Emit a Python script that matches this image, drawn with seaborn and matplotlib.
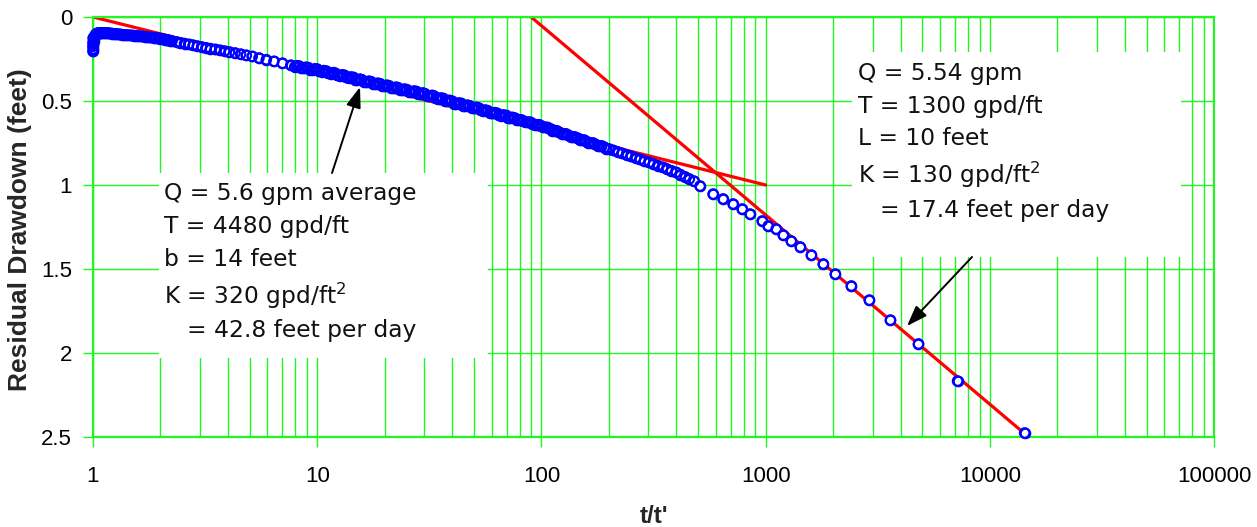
import matplotlib
matplotlib.use('Agg')
import numpy as np
import pandas as pd
import matplotlib.pyplot as plt
import seaborn as sns
from matplotlib.patches import Rectangle
from matplotlib.ticker import LogLocator, NullFormatter

# ---------------- data ----------------
# early recovery (t/t' close to 1)
x_early = [1.000, 1.000, 1.001, 1.002, 1.003, 1.005, 1.008, 1.012, 1.017, 1.023,
           1.030, 1.040, 1.050, 1.065, 1.080, 1.100, 1.120, 1.150, 1.180, 1.220,
           1.260, 1.300, 1.350, 1.400, 1.460, 1.520, 1.590, 1.660, 1.740, 1.820,
           1.910, 2.000, 2.100, 2.170]
y_early = [0.205, 0.175, 0.150, 0.125, 0.190, 0.160, 0.140, 0.125, 0.115, 0.108,
           0.102, 0.098, 0.096, 0.095, 0.094, 0.094, 0.095, 0.096, 0.097, 0.099,
           0.101, 0.103, 0.105, 0.107, 0.109, 0.111, 0.113, 0.116, 0.119, 0.122,
           0.125, 0.128, 0.134, 0.138]
x_early2 = [1.090, 1.135, 1.165, 1.200, 1.240, 1.280, 1.325, 1.375, 1.430, 1.490,
            1.555, 1.625, 1.700, 1.780, 1.865, 1.955, 2.050, 2.135, 2.210]
y_early2 = [0.094, 0.095, 0.096, 0.098, 0.100, 0.102, 0.104, 0.106, 0.108, 0.110,
            0.112, 0.115, 0.118, 0.121, 0.124, 0.127, 0.131, 0.136, 0.141]
# sparse section
x_mid = [2.25, 2.36, 2.45, 2.56, 2.67, 2.80, 2.92, 3.05, 3.19, 3.34, 3.51, 3.68,
         3.86, 4.06, 4.30, 4.55, 4.83, 5.13, 5.50, 5.93, 6.41, 7.00, 7.62]
y_mid = [0.143, 0.149, 0.153, 0.158, 0.163, 0.168, 0.173, 0.178, 0.183, 0.188,
         0.193, 0.198, 0.203, 0.208, 0.214, 0.221, 0.228, 0.235, 0.244, 0.254,
         0.264, 0.275, 0.287]
# dense band
x_band = [7.94, 8.32, 8.71, 9.12, 9.55, 10.0, 10.5, 11.0, 11.5, 12.0,
          12.6, 13.2, 13.8, 14.5, 15.1, 15.8, 16.6, 17.4, 18.2, 19.1,
          20.0, 20.9, 21.9, 22.9, 24.0, 25.1, 26.3, 27.5, 28.8, 30.2,
          31.6, 33.1, 34.7, 36.3, 38.0, 39.8, 41.7, 43.7, 45.7, 47.9,
          50.1, 52.5, 55.0, 57.5, 60.3, 63.1, 66.1, 69.2, 72.4, 75.9,
          79.4, 83.2, 87.1, 91.2, 95.5, 100, 105, 110, 115, 120,
          126, 132, 138, 145, 151, 158, 166, 174, 182, 191,
          200, 209, 219, 229, 240, 251, 263, 275, 288, 302,
          316, 331, 347, 363, 380, 398, 417, 437, 457, 479]
y_band = [0.297, 0.292, 0.306, 0.301, 0.316, 0.310, 0.326, 0.322, 0.338, 0.334,
          0.350, 0.347, 0.363, 0.360, 0.376, 0.373, 0.389, 0.385, 0.401, 0.397,
          0.413, 0.409, 0.425, 0.420, 0.436, 0.432, 0.448, 0.443, 0.459, 0.456,
          0.472, 0.470, 0.487, 0.485, 0.502, 0.500, 0.517, 0.514, 0.531, 0.528,
          0.544, 0.542, 0.559, 0.557, 0.574, 0.572, 0.588, 0.586, 0.603, 0.601,
          0.613, 0.619, 0.626, 0.634, 0.641, 0.648, 0.657, 0.667, 0.676, 0.686,
          0.695, 0.704, 0.713, 0.722, 0.731, 0.740, 0.749, 0.758, 0.767, 0.776,
          0.785, 0.794, 0.803, 0.812, 0.821, 0.830, 0.839, 0.848, 0.857, 0.866,
          0.875, 0.885, 0.895, 0.905, 0.915, 0.925, 0.938, 0.951, 0.964, 0.977]
x_band2 = [8.13, 8.51, 8.91, 9.33, 9.77, 10.2, 10.7, 11.2, 11.8, 12.3,
           12.9, 13.5, 14.1, 14.8, 15.5, 16.2, 17.0, 17.8, 18.6, 19.5,
           20.4, 21.4, 22.4, 23.4, 24.5, 25.7, 26.9, 28.2, 29.5, 30.9,
           32.4, 33.9, 35.5, 37.2, 38.9, 40.7, 42.7, 44.7, 46.8, 49.0,
           51.3, 53.7, 56.2, 58.9, 61.7, 64.6, 67.6, 70.8, 74.1, 77.6,
           81.3, 85.1, 89.1, 93.3, 97.7, 102, 107, 112, 117, 123,
           129, 135, 141, 148, 155, 162, 170, 178, 186, 195]
y_band2 = [0.290, 0.304, 0.299, 0.314, 0.308, 0.323, 0.319, 0.335, 0.331, 0.347,
           0.344, 0.360, 0.357, 0.373, 0.370, 0.386, 0.382, 0.398, 0.394, 0.410,
           0.406, 0.422, 0.418, 0.433, 0.429, 0.445, 0.441, 0.456, 0.452, 0.469,
           0.467, 0.485, 0.482, 0.500, 0.497, 0.515, 0.512, 0.528, 0.525, 0.542,
           0.538, 0.556, 0.554, 0.571, 0.569, 0.586, 0.583, 0.601, 0.598, 0.615,
           0.612, 0.627, 0.626, 0.642, 0.641, 0.657, 0.658, 0.676, 0.677, 0.695,
           0.696, 0.713, 0.714, 0.731, 0.732, 0.749, 0.750, 0.767, 0.768, 0.785]
# late recovery (large t/t')
x_late = [510, 583, 646, 716, 786, 853, 966, 1027, 1115, 1199, 1301, 1428,
          1600, 1808, 2046, 2412, 2902, 3604, 4808, 7180, 14300]
y_late = [1.006, 1.054, 1.083, 1.113, 1.143, 1.173, 1.214, 1.244, 1.262, 1.298,
          1.333, 1.369, 1.417, 1.470, 1.530, 1.601, 1.685, 1.804, 1.946, 2.167,
          2.476]

# straight-line fits
fit1_x = [1, 1000]
fit1_y = [0.0, 1.0]
fit2_x = [90, 14900]
fit2_y = [0.0, 2.5]

x_ticks = [1, 10, 100, 1000, 10000, 100000]
x_tick_labels = ['1', '10', '100', '1000', '10000', '100000']
y_ticks = [0, 0.5, 1, 1.5, 2, 2.5]
y_tick_labels = ['0', '0.5', '1', '1.5', '2', '2.5']

box1_lines = ['Q = 5.6 gpm average', 'T = 4480 gpd/ft', 'b = 14 feet',
              'K = 320 gpd/ft$^{2}$', '= 42.8 feet per day']
box2_lines = ['Q = 5.54 gpm', 'T = 1300 gpd/ft', 'L = 10 feet',
              'K = 130 gpd/ft$^{2}$', '= 17.4 feet per day']

# ---------------- plotting ----------------
df = pd.DataFrame({'tt': x_early + x_early2 + x_mid + x_band + x_band2 + x_late,
                   'dd': y_early + y_early2 + y_mid + y_band + y_band2 + y_late})

sns.set_theme(style='white')
plt.rcParams['font.family'] = ['Liberation Sans', 'DejaVu Sans']
plt.rcParams['mathtext.fontset'] = 'dejavusans'

GREEN = '#22f522'
BLUE = '#0000ff'
W, H = 1257, 527
L, R, T, B = 93, 1214, 17, 437

fig = plt.figure(figsize=(W / 100, H / 100), dpi=100)
ax = fig.add_axes([L / W, (H - B) / H, (R - L) / W, (B - T) / H])
ax.set_xscale('log')

def ax_xy(px, py):
    return ((px - L) / (R - L), (B - py) / (B - T))

# white text boxes hiding the grid
for (x0, y0, x1, y1) in [(159, 173, 488, 358), (852, 52, 1181, 257)]:
    ax0, ay1 = ax_xy(x0, y0)
    ax1, ay0 = ax_xy(x1, y1)
    ax.add_patch(Rectangle((ax0, ay0), ax1 - ax0, ay1 - ay0, transform=ax.transAxes,
                           facecolor='white', edgecolor='none', zorder=1))

sns.lineplot(x=fit1_x, y=fit1_y, ax=ax, color='#ff0000', lw=2.3, zorder=2)
sns.lineplot(x=fit2_x, y=fit2_y, ax=ax, color='#ff0000', lw=2.3, zorder=2)

# open circles: white faces first, then all outlines on top
for z in (3, 3.1):
    sns.scatterplot(data=df, x='tt', y='dd', ax=ax, marker='o', s=47,
                    color='white', edgecolor=BLUE, linewidth=1.5, zorder=z,
                    clip_on=False)
ax.collections[-1].set_facecolor('none')

ax.set_xlim(1, 100000)
ax.set_ylim(2.5, 0)
ax.set_xticks(x_ticks)
ax.set_xticklabels(x_tick_labels)
ax.xaxis.set_minor_locator(LogLocator(base=10, subs=range(2, 10)))
ax.xaxis.set_minor_formatter(NullFormatter())
ax.set_yticks(y_ticks)
ax.set_yticklabels(y_tick_labels)

ax.set_axisbelow(True)
ax.grid(False)
ax.xaxis.grid(True, which='both', color=GREEN, lw=1.0)
ax.yaxis.grid(True, which='major', color=GREEN, lw=1.0)
for s in ax.spines.values():
    s.set_color(GREEN)
    s.set_linewidth(1.6)

ax.tick_params(axis='both', which='major', length=7, width=1, color=GREEN,
               labelsize=16, labelcolor='black')
ax.tick_params(axis='x', which='major', pad=14, bottom=True)
ax.tick_params(axis='y', which='major', pad=8, left=True)
ax.tick_params(axis='x', which='minor', length=0)

ax.set_xlabel("t/t'", fontsize=17.5, fontweight='bold')
ax.xaxis.set_label_coords(0.5, -0.162)
ax.set_ylabel('Residual Drawdown (feet)', fontsize=19, fontweight='bold')
ax.yaxis.set_label_coords(-0.0544, 0.493)

# annotation text
def put_lines(lines, px, px_indent, baselines):
    for i, (txt, py) in enumerate(zip(lines, baselines)):
        x = px_indent if i == len(lines) - 1 else px
        axx, axy = ax_xy(x, py)
        ax.text(axx, axy, txt, transform=ax.transAxes, fontsize=16.8,
                family='DejaVu Sans', va='baseline', ha='left', color='#111111',
                zorder=5)

put_lines(box1_lines, 164, 187, [200, 233, 266, 304, 337])
put_lines(box2_lines, 858, 880, [80, 113, 145, 183, 217])

# arrows
arrow_style = dict(arrowstyle='-|>,head_length=0.7,head_width=0.25', color='black',
                   lw=1.4, mutation_scale=18, shrinkA=0, shrinkB=0)
ax.annotate('', xy=ax_xy(360, 87), xytext=ax_xy(332, 173), xycoords='axes fraction',
            textcoords='axes fraction', arrowprops=arrow_style, zorder=6)
ax.annotate('', xy=ax_xy(907, 326), xytext=ax_xy(972, 257), xycoords='axes fraction',
            textcoords='axes fraction', arrowprops=arrow_style, zorder=6)

fig.savefig('out.png', dpi=100)
